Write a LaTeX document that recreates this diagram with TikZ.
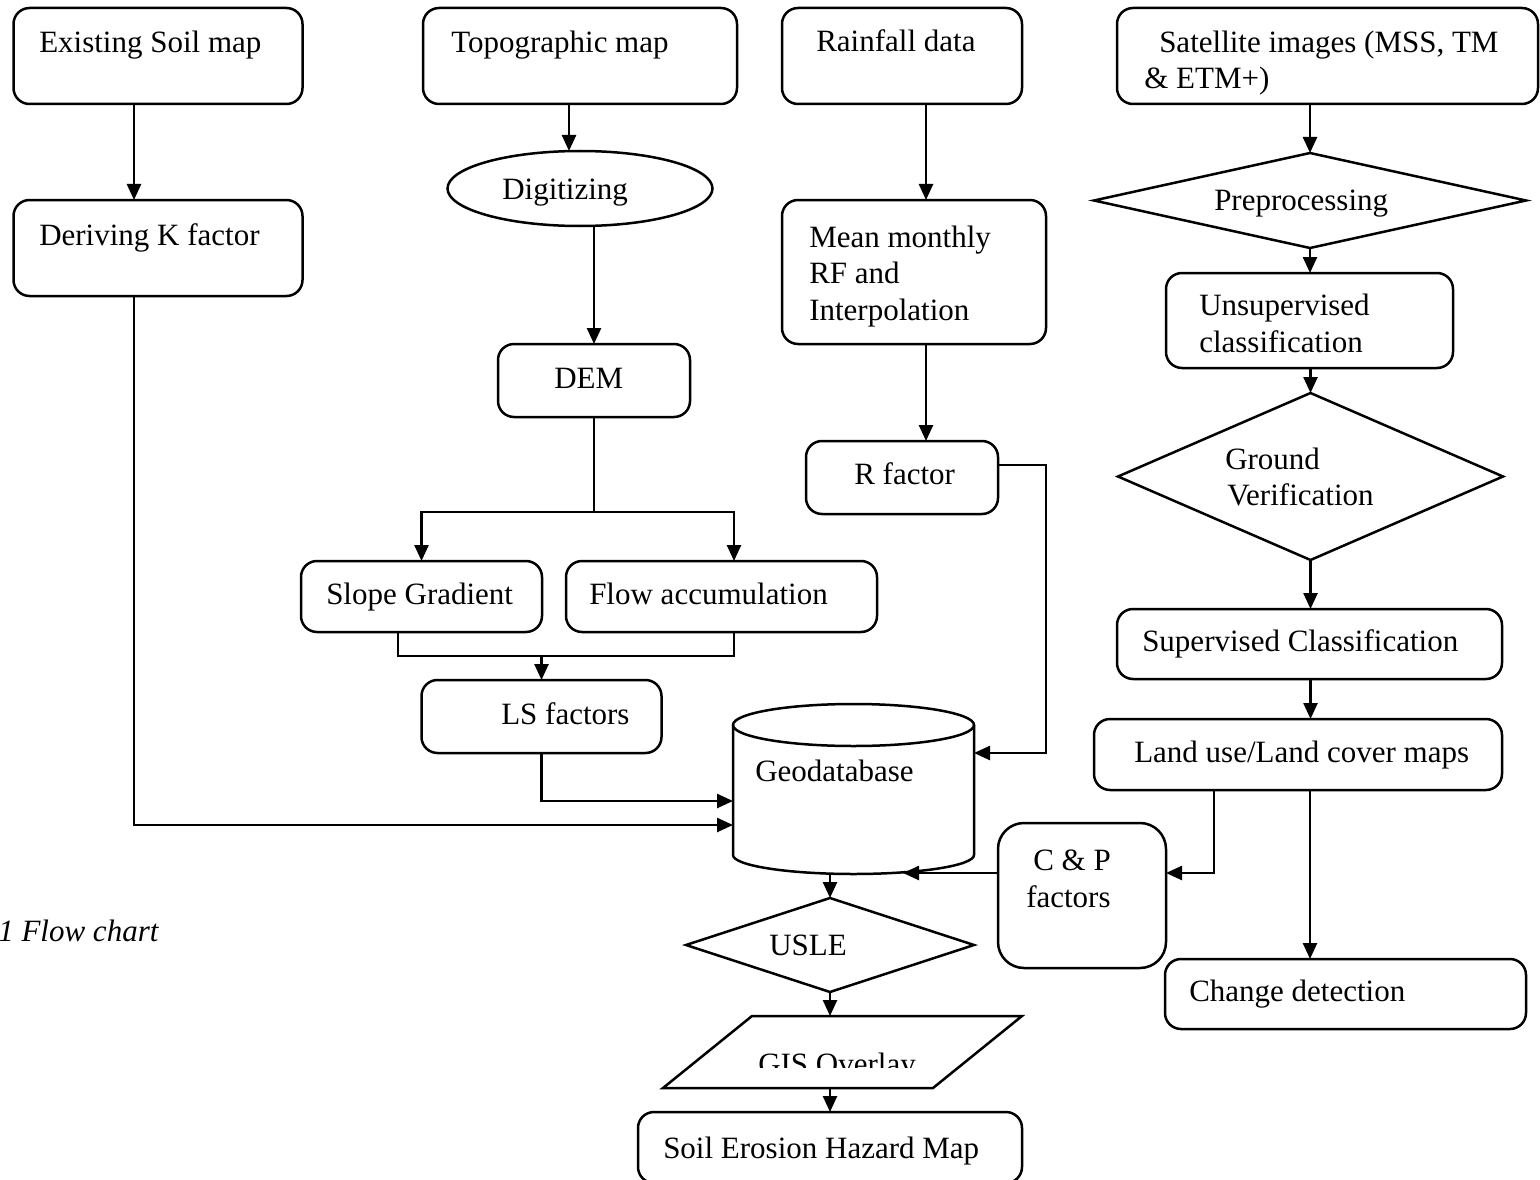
\documentclass[tikz,border=0pt]{standalone}
\usepackage{fontspec}
\setmainfont{Liberation Serif}
\usetikzlibrary{shapes.geometric, arrows.meta}

\begin{document}
\begin{tikzpicture}[x=1pt, y=-1pt, line width=2.5pt,
        font=\fontsize{31}{36.5}\selectfont,
        rbox/.style={draw, rounded corners=16pt, inner sep=0pt, outer sep=0pt},
        dia/.style={draw, diamond, inner sep=0pt, outer sep=0pt},
        hidden/.style={inner sep=0pt, outer sep=0pt},
        txt/.style={anchor=base west, inner sep=0pt},
        arr/.style={-{Triangle[length=16pt, width=14pt]}}]
        \useasboundingbox (0,0) rectangle (1540,1180);

        % input boxes
        \node[rbox, minimum width=289pt, minimum height=96pt] (soil) at (158, 56) {};
        \node[rbox, minimum width=314pt, minimum height=96pt] (topo) at (580, 56) {};
        \node[rbox, minimum width=240pt, minimum height=96pt] (rain) at (902, 56) {};
        \node[rbox, minimum width=421pt, minimum height=96pt] (sat) at (1327.5, 56) {};

        % soil and terrain side
        \node[rbox, minimum width=289pt, minimum height=96pt] (kfac) at (158, 248) {};
        \node[draw, ellipse, hidden, minimum width=265pt, minimum height=75pt] (digi) at (580, 188.5) {};
        \node[rbox, minimum width=192pt, minimum height=73pt] (dem) at (594, 380.5) {};
        \node[rbox, minimum width=241pt, minimum height=71pt] (slope) at (421.5, 596.5) {};
        \node[rbox, minimum width=311pt, minimum height=71pt] (flow) at (721.5, 596.5) {};
        \node[rbox, minimum width=240pt, minimum height=73pt] (ls) at (541.5, 716.5) {};

        % rainfall side
        \node[rbox, minimum width=264pt, minimum height=144pt] (mean) at (914, 272) {};
        \node[rbox, minimum width=192pt, minimum height=73pt] (rfac) at (902, 477.5) {};

        % geodatabase and output
        \node[hidden, minimum width=241pt, minimum height=130pt] (geo) at (853.5, 790) {};
        \draw (geo.north west) -- (geo.south west)
            arc[start angle=180, end angle=0, x radius=120.5, y radius=19] -- (geo.north east);
        \draw (geo.north) ellipse[x radius=120.5, y radius=21];
        \coordinate (geobase) at (830, 873);
        \coordinate (geoarc) at (903, 873);
        \node[dia, minimum width=288pt, minimum height=94pt] (usle) at (830, 945) {};
        \node[hidden, minimum width=359pt, minimum height=72pt] (gis) at (842.5, 1052) {};
        \draw (gis.south west) -- ([xshift=89pt]gis.north west) -- (gis.north east)
            -- ([xshift=-89pt]gis.south east) -- cycle;
        \node[rbox, minimum width=384pt, minimum height=71pt] (hazard) at (830, 1147.5) {};
        \node[rbox, rounded corners=26pt, minimum width=168pt, minimum height=145pt] (cp) at (1082, 895.5) {};

        % satellite side
        \node[dia, minimum width=432pt, minimum height=95pt] (prep) at (1310, 200.5) {};
        \node[rbox, minimum width=287pt, minimum height=95pt] (unsup) at (1309.5, 320.5) {};
        \node[dia, minimum width=385pt, minimum height=167pt] (ground) at (1310.5, 476.5) {};
        \node[rbox, minimum width=385pt, minimum height=70pt] (superv) at (1309.5, 644) {};
        \node[rbox, minimum width=408pt, minimum height=71pt] (land) at (1298, 754.5) {};
        \node[rbox, minimum width=361pt, minimum height=70pt] (change) at (1345.5, 994) {};

        % texts
        \node[txt] (soil-t) at (38, 53) {Existing Soil map};
        \node[txt] (topo-t) at (450, 53) {Topographic map};
        \node[txt] (rain-t) at (815, 52) {Rainfall data};
        \node[txt] (sat-t1) at (1158, 53) {Satellite images (MSS, TM};
        \node[txt] (sat-t2) at (1143, 89) {\& ETM+)};
        \node[txt] (kfac-t) at (38, 245) {Deriving K factor};
        \node[txt] (digi-t) at (501, 200) {Digitizing};
        \node[txt] (dem-t) at (553, 388) {DEM};
        \node[txt] (slope-t) at (325, 604) {Slope Gradient};
        \node[txt] (flow-t) at (588, 604) {Flow accumulation};
        \node[txt] (ls-t) at (500, 724) {LS factors};
        \node[txt] (mean-t1) at (808, 247) {Mean monthly};
        \node[txt] (mean-t2) at (808, 283) {RF and};
        \node[txt] (mean-t3) at (808, 320) {Interpolation};
        \node[txt] (rfac-t) at (853, 484) {R factor};
        \node[txt] (geo-t) at (754, 781) {Geodatabase};
        \node[txt] (usle-t) at (768, 955) {USLE};
        \begin{scope}
            \clip (gis.north west) rectangle ([yshift=21pt]gis.south east);
            \node[txt] (gis-t) at (757, 1074) {GIS Overlay};
        \end{scope}
        \node[txt] (hazard-t) at (662, 1158) {Soil Erosion Hazard Map};
        \node[txt] (cp-t1) at (1032, 870) {C \& P};
        \node[txt] (cp-t2) at (1025, 907) {factors};
        \node[txt] (prep-t) at (1213, 211) {Preprocessing};
        \node[txt] (unsup-t1) at (1198, 315) {Unsupervised};
        \node[txt] (unsup-t2) at (1198, 352) {classification};
        \node[txt] (ground-t1) at (1224, 469) {Ground};
        \node[txt] (ground-t2) at (1226, 505) {Verification};
        \node[txt] (superv-t) at (1141, 651) {Supervised Classification};
        \node[txt] (land-t) at (1133, 762) {Land use/Land cover maps};
        \node[txt] (change-t) at (1188, 1001) {Change detection};
        \node[txt, font=\fontsize{31}{36.5}\selectfont\itshape] (cap) at (-3, 941) {1 Flow chart};

        % connectors
        \draw[arr] ([xshift=-24pt]soil.south) -- ([xshift=-24pt]kfac.north);
        \draw[arr] ([xshift=-24pt]kfac.south) |- ([yshift=-35pt]geo.west);
        \draw[arr] ([xshift=-11pt]topo.south) -- ([xshift=-11pt]digi.north);
        \draw[arr] (digi.south -| dem.north) -- (dem.north);
        \coordinate (split) at (594, 512);
        \draw (dem.south) -- (split);
        \draw[arr] (split) -| (slope.north);
        \draw[arr] (split) -| ([xshift=12.5pt]flow.north);
        \coordinate (join) at (541.5, 656);
        \draw ([xshift=-23.5pt]slope.south) |- (join) -| ([xshift=12.5pt]flow.south);
        \draw[arr] (join) -- (ls.north);
        \draw[arr] (ls.south) |- ([yshift=-11pt]geo.west);
        \draw[arr] ([xshift=24pt]rain.south) -- ([xshift=24pt]rain.south |- mean.north);
        \draw[arr] ([xshift=12pt]mean.south) -- ([xshift=12pt]mean.south |- rfac.north);
        \draw[arr] ([yshift=12.5pt]rfac.east) -- ++(48, 0) |- ([yshift=37pt]geo.east);
        \draw[arr] (geobase) -- (usle.north);
        \draw[arr] (usle.south) -- (usle.south |- gis.north);
        \draw[arr] (gis.south -| hazard.north) -- (hazard.north);
        \draw[arr] ([yshift=22.5pt]cp.west) -- ([yshift=22.5pt]cp.west -| geoarc);
        \draw[arr] (sat.south -| prep.north) -- (prep.north);
        \draw[arr] (prep.south) -- (prep.south |- unsup.north);
        \draw[arr] (unsup.south -| ground.north) -- (ground.north);
        \draw[arr] (ground.south) -- (ground.south |- superv.north);
        \draw[arr] (superv.south -| ground.south) -- (ground.south |- land.north);
        \draw[arr] ([xshift=12pt]land.south) -- ([xshift=12pt]land.south |- change.north);
        \draw[arr] ([xshift=-84pt]land.south) |- ([yshift=22.5pt]cp.east);
    \end{tikzpicture}
\end{document}
